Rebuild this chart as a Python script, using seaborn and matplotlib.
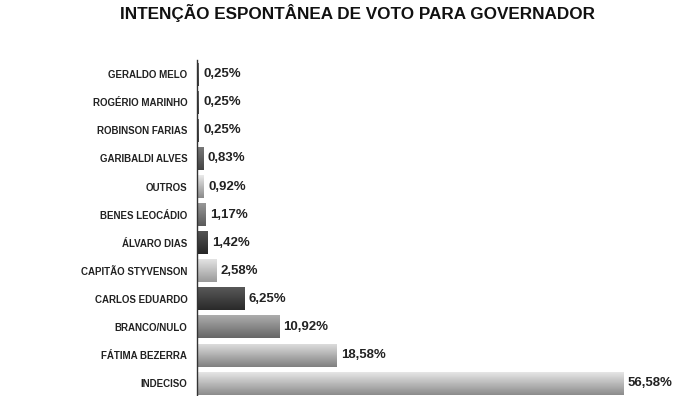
import numpy as np
import pandas as pd
import matplotlib
matplotlib.use("Agg")
import matplotlib.pyplot as plt
import seaborn as sns
from matplotlib.colors import LinearSegmentedColormap

categories = ["GERALDO MELO", "ROGÉRIO MARINHO", "ROBINSON FARIAS", "GARIBALDI ALVES",
              "OUTROS", "BENES LEOCÁDIO", "ÁLVARO DIAS", "CAPITÃO STYVENSON",
              "CARLOS EDUARDO", "BRANCO/NULO", "FÁTIMA BEZERRA", "INDECISO"]
values = [0.25, 0.25, 0.25, 0.83, 0.92, 1.17, 1.42, 2.58, 6.25, 10.92, 18.58, 56.58]
value_labels = ["0,25%", "0,25%", "0,25%", "0,83%", "0,92%", "1,17%", "1,42%",
                "2,58%", "6,25%", "10,92%", "18,58%", "56,58%"]
top_colors = ["#6a6a6a", "#6a6a6a", "#6a6a6a", "#7a7a7a", "#eeeeee", "#9a9a9a",
              "#555555", "#e6e6e6", "#5a5a5a", "#b0b0b0", "#e0e0e0", "#eaeaea"]
bottom_colors = ["#3a3a3a", "#3a3a3a", "#3a3a3a", "#444444", "#8a8a8a", "#5a5a5a",
                 "#262626", "#9a9a9a", "#2a2a2a", "#666666", "#808080", "#8c8c8c"]
title = "INTENÇÃO ESPONTÂNEA DE VOTO PARA GOVERNADOR"

sns.set_theme(style="white")
plt.rcParams['font.family'] = ['Liberation Sans', 'DejaVu Sans']

df = pd.DataFrame({"cat": categories, "val": values})

fig = plt.figure(figsize=(7.0, 3.96), dpi=100)
ax = fig.add_axes([0.2814, -0.003, 0.7186, 0.851])
sns.barplot(data=df, x="val", y="cat", orient="h", width=0.82, color="#888888",
            ax=ax, linewidth=0)

ax.set_xlim(0, 66.8)
ax.set_ylim(len(categories) - 0.5, -0.5)

# gradient fills clipped to each bar
for patch, ct, cb in zip(ax.patches, top_colors, bottom_colors):
    x0, y0 = patch.get_x(), patch.get_y()
    w, h = patch.get_width(), patch.get_height()
    cmap = LinearSegmentedColormap.from_list("g", [ct, cb])
    grad = np.linspace(0, 1, 64).reshape(-1, 1)
    im = ax.imshow(grad, cmap=cmap, aspect="auto", origin="upper",
                   extent=(x0, x0 + w, y0 + h, y0), zorder=2, interpolation="bilinear")
    im.set_clip_path(patch)
    patch.set_facecolor("none")

ax.set_xlim(0, 66.8)
ax.set_ylim(len(categories) - 0.5, -0.5)

for patch, lab in zip(ax.patches, value_labels):
    ax.annotate(lab, (patch.get_x() + patch.get_width(), patch.get_y() + patch.get_height() / 2),
                xytext=(3, 0), textcoords="offset points", va="center", ha="left",
                fontsize=9.5, fontweight="bold", color="#222222")

ax.set_xlabel("")
ax.set_ylabel("")
ax.set_xticks([])
for side in ["top", "right", "bottom"]:
    ax.spines[side].set_visible(False)
ax.spines["left"].set_color("#333333")
ax.spines["left"].set_linewidth(1.0)

ax.tick_params(axis="y", which="major", length=0, pad=7, labelsize=7, colors="#222222")
for t in ax.get_yticklabels():
    t.set_fontweight("bold")
ax.set_yticks(np.arange(-0.5, len(categories), 1.0), minor=True)
ax.tick_params(axis="y", which="minor", length=3, width=0.8, direction="out", color="#555555")

fig.text(0.511, 0.968, title, ha="center", va="center", fontsize=12.3,
         fontweight="bold", color="#111111")

fig.savefig("out.png", dpi=100, facecolor="white")
